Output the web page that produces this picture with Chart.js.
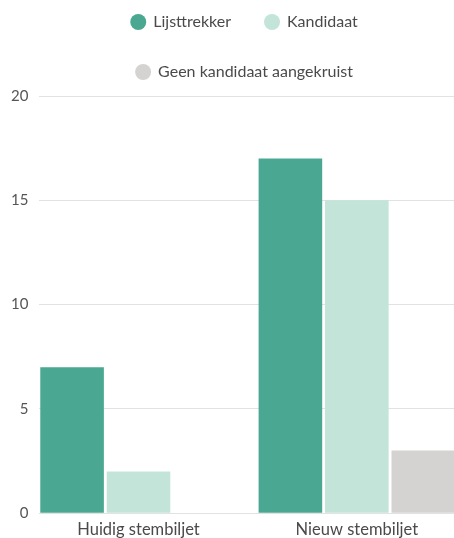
<!DOCTYPE html>
<html><head><meta charset="utf-8">
<script src="https://cdn.jsdelivr.net/npm/chart.js@4/dist/chart.umd.min.js"></script>
<style>html,body{margin:0;padding:0;background:#fff;overflow:hidden}#wrap{width:454px;height:538px;position:relative}</style>
</head><body><div id="wrap"><canvas id="c"></canvas></div>
<script>
const categories = ['Huidig stembiljet', 'Nieuw stembiljet'];
const seriesNames = ['Lijsttrekker', 'Kandidaat', 'Geen kandidaat aangekruist'];
const lijsttrekker = [7, 17];
const kandidaat = [2, 15];
const geenKandidaat = [0, 3];
const yTicks = [0, 5, 10, 15, 20];

const colors = ['#4aa792', '#c3e4d8', '#d4d3d1'];
const LEGEND_H = 116;
const FONT = 'Lato';

const seriesValues = [lijsttrekker, kandidaat, geenKandidaat];
const datasets = seriesNames.map((name, s) => ({
  label: name,
  data: seriesValues[s].map((v, i) => ({x: i, y: v})),
  backgroundColor: colors[s],
  borderWidth: 0,
  categoryPercentage: 0.913,
  barPercentage: 0.957
}));

const legendHeightPlugin = {
  id: 'legendHeight',
  beforeUpdate(chart) {
    if (chart.legend && !chart.legend._patched) {
      const orig = chart.legend.fit;
      chart.legend.fit = function () { orig.call(this); this.height = LEGEND_H; };
      chart.legend._patched = true;
    }
  }
};

new Chart(document.getElementById('c'), {
  type: 'bar',
  data: { datasets },
  plugins: [legendHeightPlugin],
  options: {
    responsive: true,
    maintainAspectRatio: false,
    animation: false,
    layout: { padding: { top: -20, left: 0, right: -35, bottom: -9 } },
    plugins: {
      tooltip: { enabled: false },
      legend: {
        position: 'top',
        labels: {
          usePointStyle: true,
          pointStyle: 'circle',
          boxWidth: 14,
          boxHeight: 11.3,
          padding: 34,
          color: '#4a4a4a',
          font: { family: FONT, size: 16 }
        }
      }
    },
    scales: {
      x: {
        type: 'linear',
        offset: false,
        min: -0.454,
        max: 1.445,
        grid: { display: false, drawTicks: false, offset: false },
        border: { display: false },
        afterBuildTicks(scale) { scale.ticks = categories.map((_, i) => ({ value: i })); },
        ticks: {
          autoSkip: false,
          maxRotation: 0,
          padding: 7,
          color: '#4a4a4a',
          font: { family: FONT, size: 16.5 },
          callback: (v) => categories[v]
        }
      },
      y: {
        min: 0,
        max: 20,
        afterBuildTicks(scale) { scale.ticks = yTicks.map(v => ({ value: v })); },
        grid: { color: '#e2e2e2', lineWidth: 1, drawTicks: false },
        border: { display: false },
        ticks: {
          padding: 11,
          color: '#555',
          font: { family: FONT, size: 15 }
        }
      }
    }
  }
});
</script>
</body></html>
